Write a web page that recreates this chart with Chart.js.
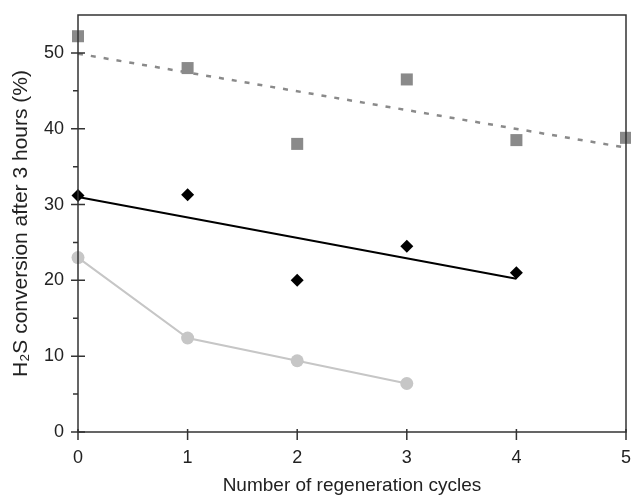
<!DOCTYPE html>
<html>
<head>
<meta charset="utf-8">
<script src="https://cdn.jsdelivr.net/npm/chart.js@4.4.1/dist/chart.umd.min.js"></script>
<style>
  html, body { margin: 0; padding: 0; background: #fff; overflow: hidden; }
  #wrap { width: 631px; height: 497px; position: relative; }
  canvas { display: block; }
</style>
</head>
<body>
<div id="wrap"><canvas id="chart"></canvas></div>
<script>
// Values
const cycles = [0, 1, 2, 3, 4, 5];
const squareVals = [52.2, 48.0, 38.0, 46.5, 38.5, 38.8];
const diamondVals = [31.2, 31.3, 20.0, 24.5, 21.0];
const circleVals = [23.0, 12.4, 9.4, 6.4];

// Trend lines (end points)
const squareTrendX = [0, 5];
const squareTrendY = [49.9, 37.5];
const diamondTrendX = [0, 4];
const diamondTrendY = [31.0, 20.2];

const xTicks = [0, 1, 2, 3, 4, 5];
const yMajor = [0, 10, 20, 30, 40, 50];
const yMinor = [5, 15, 25, 35, 45];

const toPoints = (xs, ys) => ys.map((y, i) => ({ x: xs[i], y: y }));

// Axis box with ticks crossing the axes, like the original figure
const axisBox = {
    id: 'axisBox',
    afterDraw(chart) {
        const { ctx, chartArea: a, scales: { x, y } } = chart;
        ctx.save();
        ctx.strokeStyle = '#333';
        ctx.lineWidth = 1.5;
        ctx.beginPath();
        ctx.moveTo(a.left, a.top);
        ctx.lineTo(a.right, a.top);
        ctx.lineTo(a.right, a.bottom);
        ctx.lineTo(a.left, a.bottom);
        ctx.closePath();
        ctx.stroke();
        ctx.beginPath();
        yMajor.forEach(v => {
            const py = y.getPixelForValue(v);
            ctx.moveTo(a.left - 7, py);
            ctx.lineTo(a.left + 7, py);
        });
        yMinor.forEach(v => {
            const py = y.getPixelForValue(v);
            ctx.moveTo(a.left - 5, py);
            ctx.lineTo(a.left, py);
        });
        xTicks.forEach(v => {
            const px = x.getPixelForValue(v);
            ctx.moveTo(px, a.bottom - 3);
            ctx.lineTo(px, a.bottom + 8);
        });
        ctx.stroke();
        ctx.restore();
    }
};

const tickFont = { family: "'Liberation Sans', Arial, sans-serif", size: 18 };
const titleFont = { family: "'Liberation Sans', Arial, sans-serif", size: 19 };
const yTitleFont = { family: "'Liberation Sans', Arial, sans-serif", size: 21 };

// drop the automatic label overhang padding so the plot box sits where it should
const noPad = scale => {
    scale.paddingTop = 0;
    scale.paddingBottom = 0;
    scale.paddingLeft = 0;
    scale.paddingRight = 0;
};

new Chart(document.getElementById('chart'), {
    type: 'scatter',
    data: {
        datasets: [
            {
                label: 'squares',
                data: toPoints(cycles, squareVals),
                pointStyle: 'rect',
                pointRadius: 8.5,
                backgroundColor: '#8a8a8a',
                borderColor: '#8a8a8a',
                borderWidth: 0,
                showLine: false,
                clip: false
            },
            {
                label: 'diamonds',
                data: toPoints(cycles, diamondVals),
                pointStyle: 'rectRot',
                pointRadius: 6.5,
                backgroundColor: '#000',
                borderColor: '#000',
                borderWidth: 0,
                showLine: false,
                clip: false
            },
            {
                label: 'circles',
                data: toPoints(cycles, circleVals),
                pointStyle: 'circle',
                pointRadius: 6.5,
                backgroundColor: '#c6c6c6',
                borderColor: '#c6c6c6',
                borderWidth: 2,
                pointBorderWidth: 0,
                showLine: true,
                clip: false
            },
            {
                label: 'square trend',
                data: toPoints(squareTrendX, squareTrendY),
                showLine: true,
                pointRadius: 0,
                borderColor: '#8a8a8a',
                borderWidth: 2.5,
                borderDash: [5, 8],
                clip: false
            },
            {
                label: 'diamond trend',
                data: toPoints(diamondTrendX, diamondTrendY),
                showLine: true,
                pointRadius: 0,
                borderColor: '#000',
                borderWidth: 2,
                clip: false
            }
        ]
    },
    options: {
        responsive: true,
        maintainAspectRatio: false,
        animation: false,
        events: [],
        layout: {
            autoPadding: false,
            padding: { left: 0, top: 15, right: 5, bottom: 0 }
        },
        plugins: {
            legend: { display: false },
            tooltip: { enabled: false }
        },
        scales: {
            x: {
                type: 'linear',
                min: 0,
                max: 5,
                grid: { display: false, drawTicks: false },
                border: { display: false },
                ticks: {
                    stepSize: 1,
                    padding: 15,
                    color: '#222',
                    font: tickFont
                },
                title: {
                    display: true,
                    text: 'Number of regeneration cycles',
                    color: '#222',
                    font: titleFont,
                    padding: { top: 0, bottom: 0 }
                },
                afterFit: scale => { scale.height = 65; noPad(scale); }
            },
            y: {
                type: 'linear',
                min: 0,
                max: 55,
                grid: { display: false, drawTicks: false },
                border: { display: false },
                afterBuildTicks: scale => {
                    scale.ticks = yMajor.map(v => ({ value: v }));
                },
                ticks: {
                    padding: 14,
                    color: '#222',
                    font: tickFont
                },
                title: {
                    display: true,
                    text: 'H\u2082S conversion after 3 hours (%)',
                    color: '#222',
                    font: yTitleFont,
                    padding: { top: 9, bottom: 0 }
                },
                afterFit: scale => { scale.width = 78; noPad(scale); }
            }
        }
    },
    plugins: [axisBox]
});
</script>
</body>
</html>
